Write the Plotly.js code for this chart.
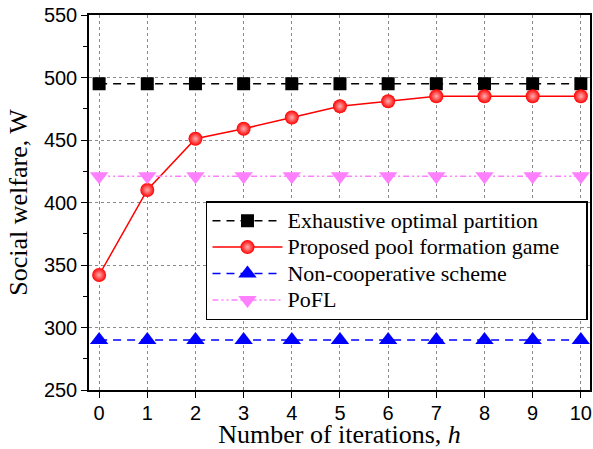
<!DOCTYPE html>
<html><head><script src="https://cdn.plot.ly/plotly-3.0.1.min.js"></script>
<style>body{margin:0}</style></head>
<body><div id="c" style="width:593px;height:449px"></div>
<script>
const iterations = [0,1,2,3,4,5,6,7,8,9,10];
const exhaustive = [495,495,495,495,495,495,495,495,495,495,495];
const proposed = [342,410,451,459,468,477,481,485,485,485,485];
const nonCoop = [290,290,290,290,290,290,290,290,290,290,290];
const pofl = [421,421,421,421,421,421,421,421,421,421,421];
const yTicks = [250,300,350,400,450,500,550];
const seriesNames = ['Exhaustive optimal partition','Proposed pool formation game','Non-cooperative scheme','PoFL'];

const big = (s, pad) => '<span style="font-size:22px">' + s + (pad ? '&nbsp;&nbsp;&nbsp;&nbsp;' : '') + '</span>';
const traces = [
  {x:iterations,y:exhaustive,name:big(seriesNames[0]),mode:'lines+markers',
   line:{color:'black',dash:'8px,6px',width:1.5},marker:{symbol:'square',size:13,color:'black'}},
  {x:iterations,y:proposed,name:big(seriesNames[1], true),mode:'lines+markers',
   line:{color:'red',width:1.5},marker:{symbol:'circle',size:14,color:'red',gradient:{type:'radial',color:'#ffb0b0'}}},
  {x:iterations,y:nonCoop,name:big(seriesNames[2]),mode:'lines+markers',
   line:{color:'blue',dash:'8px,6px',width:1.5},marker:{symbol:'triangle-up',size:16,color:'blue'}},
  {x:iterations,y:pofl,name:big(seriesNames[3]),mode:'lines+markers',
   line:{color:'#ff80ff',dash:'6px,3px,2px,3px,2px,3px',width:1.5},marker:{symbol:'triangle-down',size:16,color:'#ff80ff'}}
];
const serif = 'Liberation Serif, Times New Roman, serif';
const sans = 'Liberation Sans, Arial, sans-serif';
const layout = {
  width:593,height:449,
  margin:{l:89,r:3,t:15,b:59,autoexpand:false},
  paper_bgcolor:'white',plot_bgcolor:'white',
  showlegend:true,
  legend:{x:0.2335,y:0.504,xanchor:'left',yanchor:'top',bordercolor:'black',borderwidth:1.5,
    font:{family:serif,size:18,color:'black'},tracegroupgap:0,itemwidth:70},
  xaxis:{range:[-0.21,10.19],tickvals:iterations,ticktext:iterations.map(String),
    showline:true,mirror:true,linecolor:'black',linewidth:1.5,ticks:'outside',ticklen:6,tickcolor:'black',
    ticklabelstandoff:-2,
    showgrid:true,gridcolor:'#8a8a8a',griddash:'3px,3px',gridwidth:1,zeroline:false,
    tickfont:{family:sans,size:20,color:'black'},
    title:{text:'Number of iterations, <i>h</i>',font:{family:serif,size:26,color:'black'}}},
  yaxis:{range:[250,550],tickvals:yTicks,
    showline:true,mirror:true,linecolor:'black',linewidth:1.5,ticks:'outside',ticklen:6,tickcolor:'black',
    minor:{dtick:25,ticks:'outside',ticklen:4,tickcolor:'black'},
    showgrid:true,gridcolor:'#8a8a8a',griddash:'3px,3px',gridwidth:1,zeroline:false,
    tickfont:{family:sans,size:20,color:'black'},
    title:{text:'Social welfare, W',font:{family:serif,size:26,color:'black'}}}
};
Plotly.newPlot('c',traces,layout,{displayModeBar:false});
</script></body></html>
